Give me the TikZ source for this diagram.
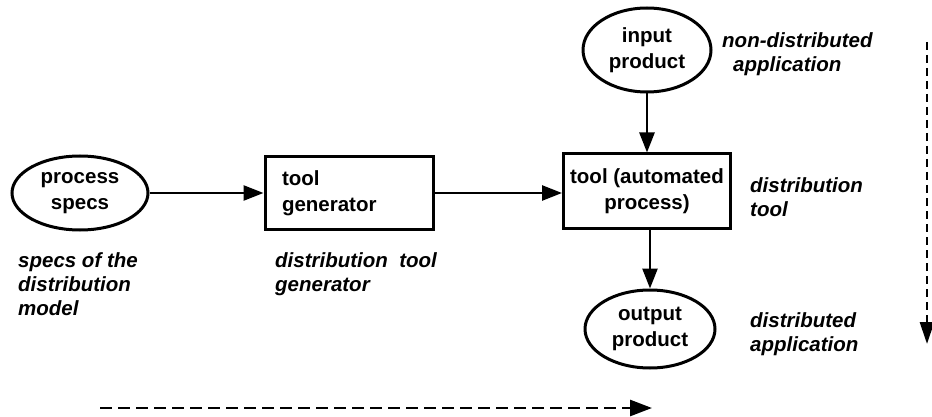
\documentclass[tikz,border=0pt]{standalone}
\usepackage{fontspec}
\setmainfont{Liberation Sans}
\usetikzlibrary{arrows.meta,shapes.geometric}
\begin{document}
\begin{tikzpicture}[x=1pt,y=-1pt,
  every node/.style={font=\bfseries\fontsize{20.5}{26}\selectfont},
  ell/.style={draw,line width=3pt,ellipse,inner sep=0pt,align=center},
  boxn/.style={draw,line width=3pt,rectangle,inner sep=0pt,align=center},
  lbl/.style={font=\bfseries\itshape\fontsize{20.5}{24}\selectfont,align=left,anchor=north west,inner sep=0pt},
  conn/.style={line width=2.6pt,-{Triangle[length=20pt,width=15pt]}},
  dconn/.style={line width=2.8pt,dash pattern=on 12pt off 6pt,-{Triangle[length=22pt,width=16pt]}},
  vconn/.style={line width=2.8pt,dash pattern=on 8pt off 5pt,-{Triangle[length=22pt,width=14pt]}}]
\useasboundingbox (0,0) rectangle (932,417);
% nodes
\node[ell,minimum width=136pt,minimum height=74pt] (ps) at (80,193) {process\\specs};
\node[boxn,minimum width=168pt,minimum height=73pt,text width=134pt,align=left] (tg) at (349,193) {tool\\generator};
\node[boxn,minimum width=167pt,minimum height=74pt] (tool) at (647,191) {tool (automated\\process)};
\node[ell,minimum width=128pt,minimum height=84pt] (in) at (647,50) {input\\product};
\node[ell,minimum width=130pt,minimum height=78pt] (out) at (650,329) {output\\product};
% labels
\node[lbl] (l1) at (18,252) {specs of the\\distribution\\model};
\node[lbl] (l2) at (275,252) {distribution\ \ tool\\generator};
\node[lbl] (l3) at (722,32) {non-distributed\\\hspace*{11pt}application};
\node[lbl] (l4) at (750,177) {distribution\\tool};
\node[lbl] (l5) at (750,312) {distributed\\application};
% connectors
\draw[conn] (ps.east) -- (tg.west);
\draw[conn] (tg.east) -- (tg.east -| tool.west);
\draw[conn] (in.south) -- (in.south |- tool.north);
\draw[conn] (tool.south -| out.north) -- (out.north);
% dashed arrows
\coordinate (ha) at (100,408);
\coordinate (hb) at (652,408);
\draw[dconn] (ha) -- (hb);
\coordinate (va) at (927,42);
\coordinate (vb) at (927,344);
\draw[vconn] (va) -- (vb);
\end{tikzpicture}
\end{document}
